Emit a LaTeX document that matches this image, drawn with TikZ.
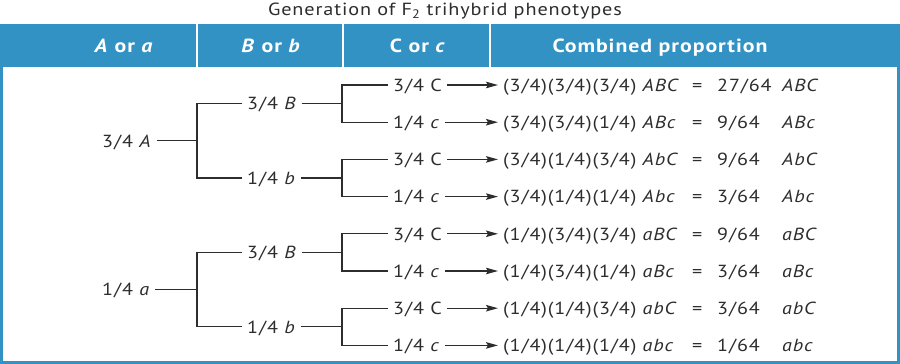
\documentclass[tikz,border=0pt]{standalone}
\usepackage{fontspec}
\setmainfont{PT Sans}[FakeStretch=1.15,LetterSpace=5]
\usetikzlibrary{arrows.meta}
\definecolor{hblue}{RGB}{50,146,196}
\definecolor{ink}{RGB}{45,45,45}
\begin{document}
\begin{tikzpicture}[x=1pt,y=-1pt,
  lab/.style={anchor=west, inner xsep=5pt, inner ysep=0pt, text height=12.5pt, text depth=0pt, font=\fontsize{17.5}{20}\selectfont, text=ink},
  hd/.style={text=white, font=\fontsize{19}{22}\selectfont\bfseries, inner sep=0pt, text height=14pt, text depth=0pt},
  br/.style={draw=ink, line width=1.3pt},
  arr/.style={draw=ink, line width=1.3pt, -{Stealth[length=12pt,width=6.5pt,inset=2pt]}}]
\useasboundingbox (0,0) rectangle (900,364);
\fill[white] (0,0) rectangle (900,364);
% title and frame
\node[font=\fontsize{17.6}{20}\selectfont, text=ink, inner sep=0pt, text height=12.3pt, text depth=0pt] (title) at (445,9.5) {Generation of F\textsubscript{2} trihybrid phenotypes};
\fill[hblue] (0,24) rectangle (900,67);
\fill[hblue] (0,67) rectangle (3,364);
\fill[hblue] (897,67) rectangle (900,364);
\fill[hblue] (0,361) rectangle (900,364);
\foreach \x in {197,343,490} \draw[white, line width=2pt] (\x,24) -- (\x,67);
\node[hd] (h1) at (124,45) {\textit{A} or \textit{a}};
\node[hd] (h2) at (271,45) {\textit{B} or \textit{b}};
\node[hd] (h3) at (418,45) {C or \textit{c}};
\node[hd] (h4) at (660,45) {Combined proportion};
% junction columns
\coordinate (jA) at (197,0);
\coordinate (jB) at (342,0);
% A level
\node[lab] (a1) at (97,140.8) {3/4 \textit{A}};
\node[lab] (a2) at (97,289.6) {1/4 \textit{a}};
% B level
\node[lab] (b1) at (242,103.6) {3/4 \textit{B}};
\node[lab] (b2) at (242,178.0) {1/4 \textit{b}};
\node[lab] (b3) at (242,252.4) {3/4 \textit{B}};
\node[lab] (b4) at (242,326.8) {1/4 \textit{b}};
% C level
\node[lab] (c1) at (388,85.0) {3/4 C};
\node[lab] (c2) at (388,122.2) {1/4 \textit{c}};
\node[lab] (c3) at (388,159.4) {3/4 C};
\node[lab] (c4) at (388,196.6) {1/4 \textit{c}};
\node[lab] (c5) at (388,233.8) {3/4 C};
\node[lab] (c6) at (388,271.0) {1/4 \textit{c}};
\node[lab] (c7) at (388,308.2) {3/4 C};
\node[lab] (c8) at (388,345.4) {1/4 \textit{c}};
% expressions
\node[lab] (e1) at (498,85.0) {(3/4)(3/4)(3/4) \textit{ABC}};
\node[lab] (e2) at (498,122.2) {(3/4)(3/4)(1/4) \textit{ABc}};
\node[lab] (e3) at (498,159.4) {(3/4)(1/4)(3/4) \textit{AbC}};
\node[lab] (e4) at (498,196.6) {(3/4)(1/4)(1/4) \textit{Abc}};
\node[lab] (e5) at (498,233.8) {(1/4)(3/4)(3/4) \textit{aBC}};
\node[lab] (e6) at (498,271.0) {(1/4)(3/4)(1/4) \textit{aBc}};
\node[lab] (e7) at (498,308.2) {(1/4)(1/4)(3/4) \textit{abC}};
\node[lab] (e8) at (498,345.4) {(1/4)(1/4)(1/4) \textit{abc}};
\foreach \i/\y in {1/85.0,2/122.2,3/159.4,4/196.6,5/233.8,6/271.0,7/308.2,8/345.4}
  \node[lab] (q\i) at (687,\y) {=};
\node[lab] (n1) at (712,85.0) {27/64};
\node[lab] (n2) at (712,122.2) {9/64};
\node[lab] (n3) at (712,159.4) {9/64};
\node[lab] (n4) at (712,196.6) {3/64};
\node[lab] (n5) at (712,233.8) {9/64};
\node[lab] (n6) at (712,271.0) {3/64};
\node[lab] (n7) at (712,308.2) {3/64};
\node[lab] (n8) at (712,345.4) {1/64};
\node[lab] (g1) at (777,85.0) {\textit{ABC}};
\node[lab] (g2) at (777,122.2) {\textit{ABc}};
\node[lab] (g3) at (777,159.4) {\textit{AbC}};
\node[lab] (g4) at (777,196.6) {\textit{Abc}};
\node[lab] (g5) at (777,233.8) {\textit{aBC}};
\node[lab] (g6) at (777,271.0) {\textit{aBc}};
\node[lab] (g7) at (777,308.2) {\textit{abC}};
\node[lab] (g8) at (777,345.4) {\textit{abc}};
% tree connectors
\draw[br] (a1.east) -- (jA |- a1.east);
\draw[br] (b1.west) -- (jA |- b1.west) -- (jA |- b2.west) -- (b2.west);
\draw[br] (a2.east) -- (jA |- a2.east);
\draw[br] (b3.west) -- (jA |- b3.west) -- (jA |- b4.west) -- (b4.west);
\foreach \b/\u/\l in {b1/c1/c2, b2/c3/c4, b3/c5/c6, b4/c7/c8} {
  \draw[br] (\b.east) -- (jB |- \b.east);
  \draw[br] (\u.west) -- (jB |- \u.west) -- (jB |- \l.west) -- (\l.west);
}
\foreach \i in {1,...,8}
  \draw[arr] (c\i.east) -- (e\i.west);
\end{tikzpicture}
\end{document}
